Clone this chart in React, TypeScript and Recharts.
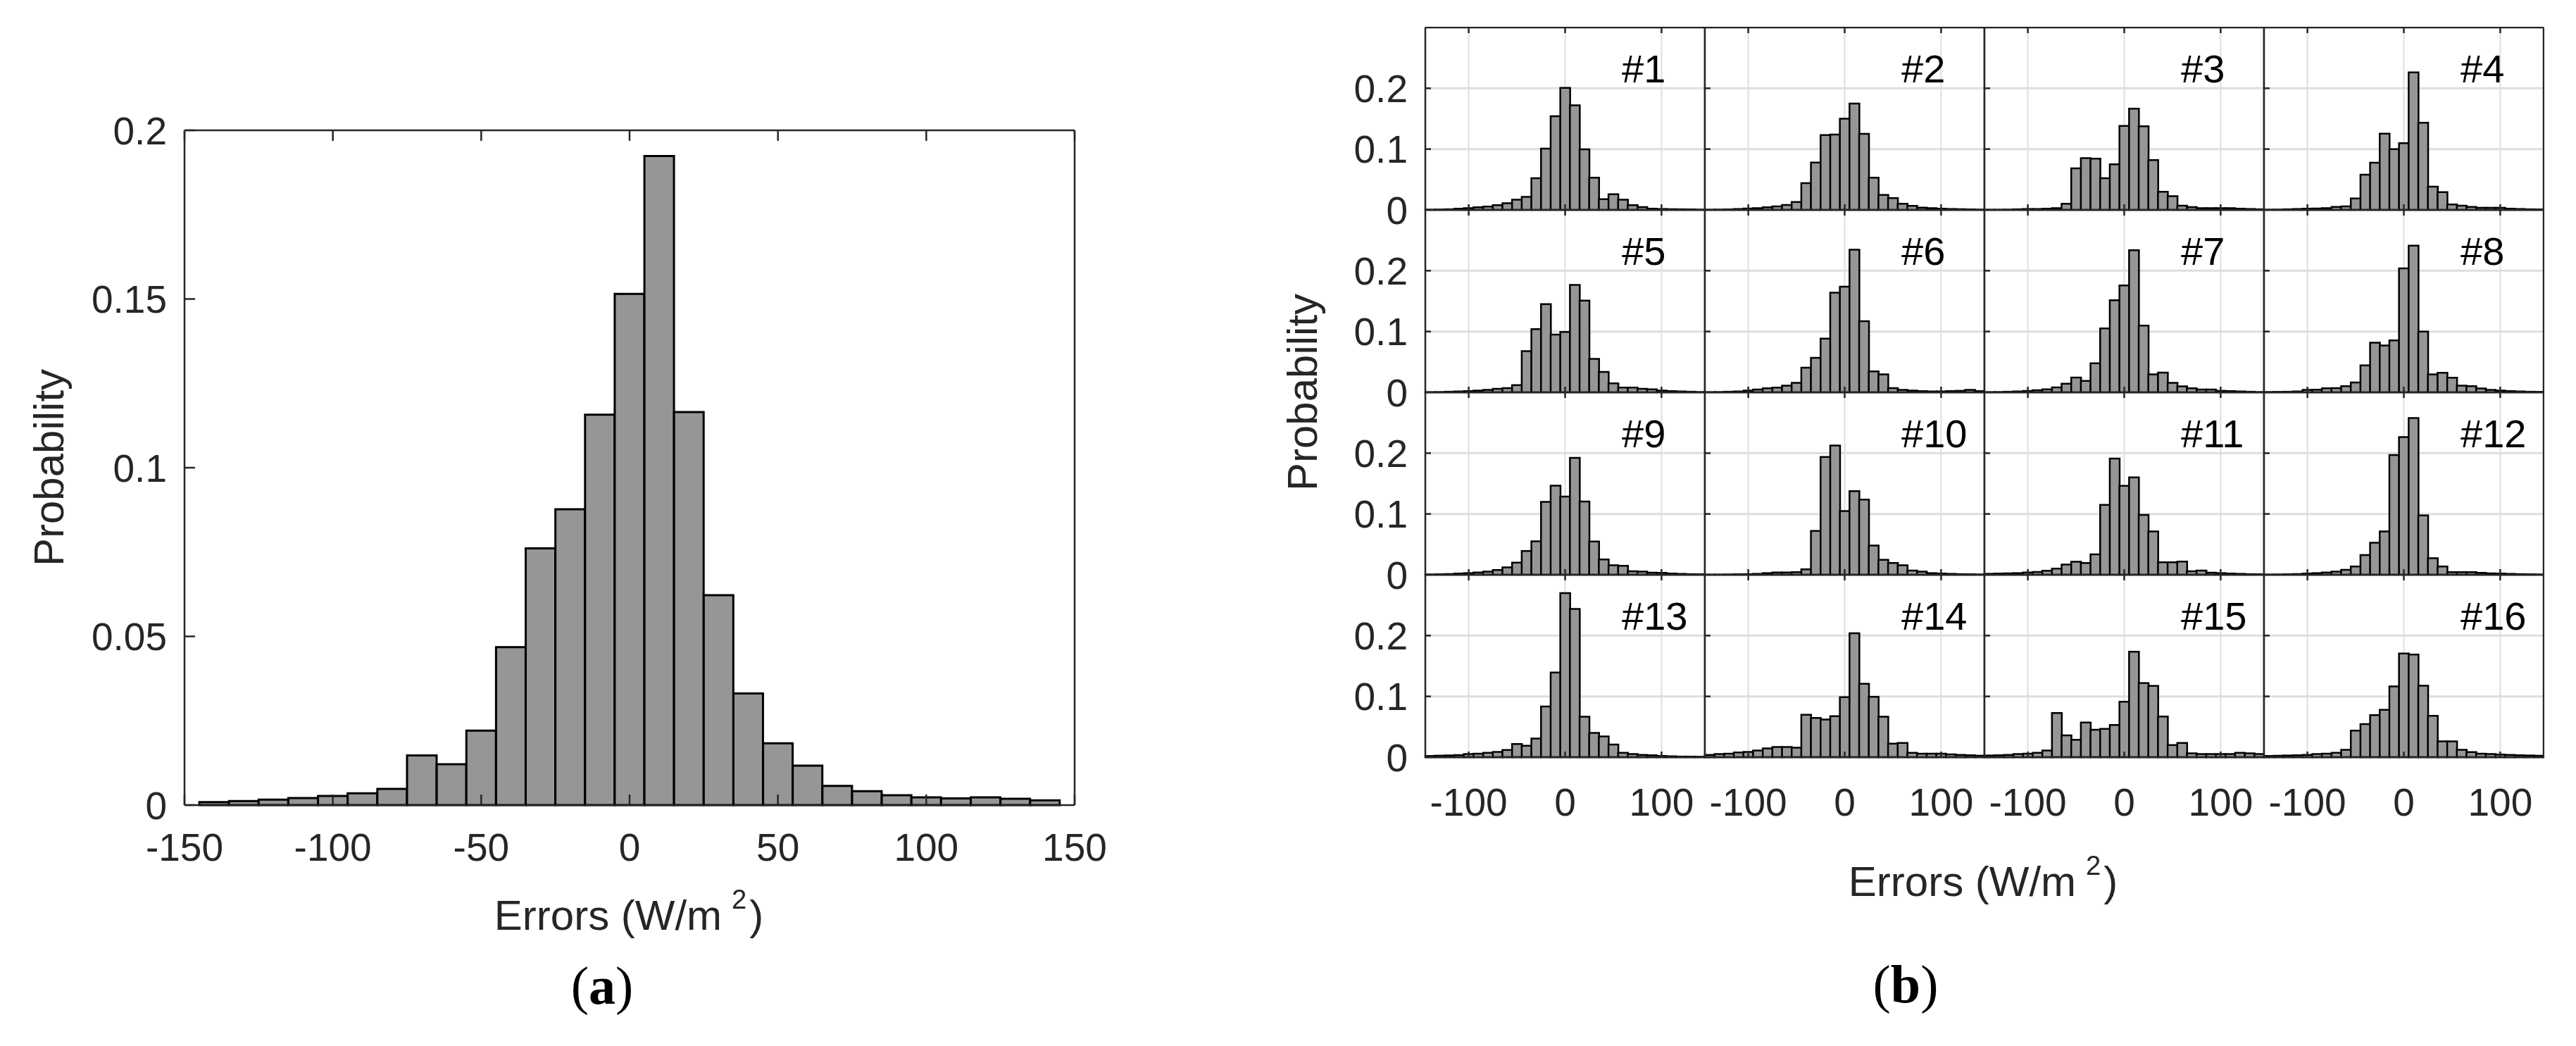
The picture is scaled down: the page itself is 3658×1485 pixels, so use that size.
import React from "react";
import { BarChart, Bar, XAxis, YAxis, CartesianGrid } from "recharts";

// 10 W/m2 bins, centres from -140 to 140
const binCenters = [-140, -130, -120, -110, -100, -90, -80, -70, -60, -50, -40, -30, -20, -10, 0, 10, 20, 30, 40, 50, 60, 70, 80, 90, 100, 110, 120, 130, 140];

// (a) all stations pooled
const allStations = [0.0009, 0.0012, 0.0016, 0.0021, 0.0027, 0.0035, 0.0048, 0.0147, 0.0121, 0.0221, 0.0468, 0.0761, 0.0877, 0.1157, 0.1515, 0.1924, 0.1165, 0.0622, 0.0331, 0.0183, 0.0117, 0.0057, 0.0041, 0.0029, 0.0023, 0.002, 0.0023, 0.0019, 0.0014];

// (b) per station
const station1 = [0.0004, 0.0006, 0.001, 0.002, 0.003, 0.0043, 0.0055, 0.0078, 0.011, 0.0168, 0.0215, 0.052, 0.1008, 0.154, 0.2008, 0.172, 0.0996, 0.053, 0.0176, 0.0258, 0.0168, 0.0078, 0.0047, 0.002, 0.0015, 0.0012, 0.001, 0.0008, 0.0005];
const station2 = [0.0003, 0.0005, 0.0008, 0.0015, 0.0023, 0.003, 0.0043, 0.0059, 0.0082, 0.0129, 0.0441, 0.078, 0.123, 0.124, 0.15, 0.175, 0.125, 0.0531, 0.0246, 0.0195, 0.0102, 0.0066, 0.0039, 0.003, 0.002, 0.0015, 0.0012, 0.0008, 0.0005];
const station3 = [0.0002, 0.0003, 0.0005, 0.001, 0.0015, 0.0015, 0.002, 0.003, 0.0102, 0.0684, 0.0852, 0.0844, 0.052, 0.075, 0.138, 0.1664, 0.1375, 0.082, 0.0297, 0.0227, 0.007, 0.0047, 0.003, 0.003, 0.003, 0.003, 0.002, 0.0015, 0.001];
const station4 = [0.0003, 0.0005, 0.001, 0.0015, 0.002, 0.0023, 0.003, 0.005, 0.0059, 0.0188, 0.0578, 0.0777, 0.1254, 0.1, 0.1098, 0.2262, 0.1434, 0.0383, 0.0293, 0.009, 0.007, 0.005, 0.0035, 0.0035, 0.0035, 0.002, 0.0015, 0.001, 0.0008];
const station5 = [0.0003, 0.0005, 0.001, 0.0015, 0.002, 0.003, 0.004, 0.0059, 0.007, 0.0118, 0.0678, 0.104, 0.145, 0.095, 0.0992, 0.1765, 0.151, 0.0549, 0.0337, 0.0149, 0.0078, 0.0078, 0.0059, 0.005, 0.003, 0.002, 0.0015, 0.001, 0.0005];
const station6 = [0.0003, 0.0005, 0.001, 0.0015, 0.003, 0.0047, 0.0067, 0.0078, 0.011, 0.0157, 0.0404, 0.0569, 0.0882, 0.164, 0.1737, 0.2345, 0.1169, 0.0345, 0.0294, 0.007, 0.004, 0.003, 0.002, 0.0015, 0.0015, 0.002, 0.0025, 0.004, 0.002];
const station7 = [0.0003, 0.0005, 0.001, 0.0015, 0.0023, 0.0035, 0.005, 0.0082, 0.0141, 0.0243, 0.0188, 0.0478, 0.105, 0.1514, 0.1757, 0.2337, 0.1098, 0.0294, 0.0325, 0.0157, 0.0098, 0.0067, 0.0047, 0.0047, 0.0025, 0.002, 0.0015, 0.001, 0.0005];
const station8 = [0.0005, 0.0008, 0.001, 0.0015, 0.004, 0.0043, 0.0067, 0.007, 0.0102, 0.0161, 0.0443, 0.0816, 0.0769, 0.0855, 0.2039, 0.2412, 0.1, 0.0294, 0.0322, 0.0239, 0.011, 0.0102, 0.0063, 0.004, 0.003, 0.002, 0.0015, 0.001, 0.0008];
const station9 = [0.0005, 0.0008, 0.0012, 0.002, 0.0027, 0.0039, 0.0051, 0.0078, 0.0121, 0.0199, 0.039, 0.055, 0.12, 0.1466, 0.1287, 0.1922, 0.1205, 0.0546, 0.0253, 0.0156, 0.0148, 0.0058, 0.0051, 0.0035, 0.0031, 0.002, 0.0015, 0.001, 0.0008];
const station10 = [0.0002, 0.0003, 0.0005, 0.0008, 0.001, 0.0015, 0.0027, 0.0039, 0.0039, 0.0043, 0.009, 0.0721, 0.1938, 0.2125, 0.1049, 0.1376, 0.1236, 0.048, 0.0246, 0.0195, 0.0156, 0.007, 0.0051, 0.0027, 0.002, 0.0015, 0.001, 0.0008, 0.0005];
const station11 = [0.0016, 0.002, 0.0023, 0.0027, 0.0039, 0.0047, 0.0066, 0.0101, 0.0168, 0.0214, 0.0195, 0.0335, 0.115, 0.191, 0.1462, 0.16, 0.0986, 0.0713, 0.0207, 0.0207, 0.0218, 0.0058, 0.007, 0.0035, 0.0027, 0.002, 0.0015, 0.001, 0.0008];
const station12 = [0.0003, 0.0005, 0.0008, 0.0012, 0.002, 0.0027, 0.0039, 0.0051, 0.0082, 0.0136, 0.0324, 0.0526, 0.0713, 0.1969, 0.2265, 0.2577, 0.0975, 0.0273, 0.0136, 0.0043, 0.0043, 0.0043, 0.0031, 0.0023, 0.002, 0.0015, 0.001, 0.0008, 0.0005];
const station13 = [0.002, 0.0025, 0.003, 0.0035, 0.0051, 0.0059, 0.0071, 0.0086, 0.0118, 0.0216, 0.0188, 0.0306, 0.0835, 0.1392, 0.2698, 0.2439, 0.0667, 0.04, 0.0341, 0.0208, 0.0071, 0.0051, 0.0039, 0.0031, 0.002, 0.0015, 0.001, 0.001, 0.0008];
const station14 = [0.0039, 0.0051, 0.0059, 0.0078, 0.0086, 0.011, 0.0145, 0.0169, 0.0169, 0.0157, 0.0698, 0.0647, 0.062, 0.0675, 0.0988, 0.2039, 0.1208, 0.0992, 0.0667, 0.0224, 0.0235, 0.0071, 0.0059, 0.0059, 0.0059, 0.0047, 0.0039, 0.0031, 0.0025];
const station15 = [0.0028, 0.0031, 0.0039, 0.0051, 0.0059, 0.0071, 0.011, 0.0728, 0.0358, 0.0287, 0.0571, 0.0453, 0.0465, 0.0531, 0.0913, 0.1736, 0.122, 0.1173, 0.0669, 0.0201, 0.0236, 0.0063, 0.0051, 0.0051, 0.0051, 0.0051, 0.0071, 0.0063, 0.0051];
const station16 = [0.002, 0.0024, 0.0028, 0.0031, 0.0039, 0.0051, 0.0059, 0.0071, 0.0122, 0.0437, 0.0543, 0.0693, 0.078, 0.1165, 0.1705, 0.1689, 0.1177, 0.0681, 0.026, 0.026, 0.0122, 0.0083, 0.0059, 0.0051, 0.0043, 0.0039, 0.0031, 0.0028, 0.0024];

const stationSeries = [station1, station2, station3, station4, station5, station6, station7, station8, station9, station10, station11, station12, station13, station14, station15, station16];
const stationNames = ["#1", "#2", "#3", "#4", "#5", "#6", "#7", "#8", "#9", "#10", "#11", "#12", "#13", "#14", "#15", "#16"];

const xTicksA = [-150, -100, -50, 0, 50, 100, 150];
const yTicksA = [0, 0.05, 0.1, 0.15, 0.2];
const xTicksB = [-100, 0, 100];
const yTicksB = [0, 0.1, 0.2];

const FONT = '"Liberation Sans", Arial, Helvetica, sans-serif';
const SERIF = '"Liberation Serif", "DejaVu Serif", serif';
const INK = "#262626";
const BAR_FILL = "#969696";
const GRID = "#dedede";

const tickStyle = { fill: INK, fontSize: 55, fontFamily: FONT };
// keeps the tick marks (and grid) but draws no label
const noLabel = () => <g />;

// layout (px)
const A = { left: 262, right: 1526, top: 185, bottom: 1143 };
const B = { left: 2024, top: 39, cellW: 397, cellH: 259 };
const B_YAXIS_W = 110;
const B_XAXIS_H = 100;

const toRows = (vals: number[]) => binCenters.map((x, i) => ({ x, p: vals[i] }));

function OverallHist() {
  const width = 1600;
  const xAxisH = 127;
  const height = A.bottom + xAxisH;
  return (
    <div style={{ position: "absolute", left: 0, top: 0 }}>
      <BarChart
        width={width}
        height={height}
        data={toRows(allStations)}
        margin={{ top: A.top - 1, right: width - A.right - 1, left: 0, bottom: 0 }}
        barCategoryGap={0}
        barGap={0}
      >
        <Bar dataKey="p" fill={BAR_FILL} stroke="#000" strokeWidth={3} isAnimationActive={false} />
        <XAxis dataKey="x" type="number" domain={[-150, 150]} ticks={xTicksA} interval={0}
          height={xAxisH} tickSize={-15} tickMargin={55} tick={tickStyle} stroke={INK} strokeWidth={2.5} />
        <XAxis xAxisId="top" dataKey="x" orientation="top" type="number" domain={[-150, 150]} ticks={xTicksA}
          interval={0} height={1} tickSize={-15} tick={noLabel} stroke={INK} strokeWidth={2.5} />
        <YAxis type="number" domain={[0, 0.2]} ticks={yTicksA} interval={0} width={A.left}
          tickSize={-15} tickMargin={40} tick={tickStyle} stroke={INK} strokeWidth={2.5} />
        <YAxis yAxisId="right" orientation="right" type="number" domain={[0, 0.2]} ticks={yTicksA}
          interval={0} width={1} tickSize={-15} tick={noLabel} stroke={INK} strokeWidth={2.5} />
      </BarChart>
    </div>
  );
}

function StationHist({ values, row, col }: { values: number[]; row: number; col: number }) {
  const showY = col === 0;
  const showX = row === 3;
  const left = B.left + col * B.cellW - B_YAXIS_W;
  const top = B.top + row * B.cellH - 1;
  return (
    <div style={{ position: "absolute", left, top }}>
      <BarChart
        width={B_YAXIS_W + B.cellW + 1}
        height={1 + B.cellH + B_XAXIS_H}
        data={toRows(values)}
        margin={{ top: 0, right: 0, left: 0, bottom: 0 }}
        barCategoryGap={0}
        barGap={0}
      >
        <CartesianGrid horizontal={false} stroke={GRID} strokeWidth={2} />
        <CartesianGrid vertical={false} stroke={GRID} strokeWidth={3} />
        <Bar dataKey="p" fill={BAR_FILL} stroke="#000" strokeWidth={2.5} isAnimationActive={false} />
        <XAxis dataKey="x" type="number" domain={[-145, 145]} ticks={xTicksB} interval={0}
          height={B_XAXIS_H} tickSize={-8} tickMargin={52} tick={showX ? tickStyle : noLabel}
          stroke={INK} strokeWidth={2.5} />
        <XAxis xAxisId="top" dataKey="x" orientation="top" type="number" domain={[-145, 145]} ticks={xTicksB}
          interval={0} height={1} tickSize={-8} tick={noLabel} stroke={INK} strokeWidth={2.5} />
        <YAxis type="number" domain={[0, 0.3]} ticks={yTicksB} interval={0} width={B_YAXIS_W}
          tickSize={-8} tickMargin={33} tick={showY ? tickStyle : noLabel} stroke={INK} strokeWidth={2.5} />
        <YAxis yAxisId="right" orientation="right" type="number" domain={[0, 0.3]} ticks={yTicksB}
          interval={0} width={1} tickSize={-8} tick={noLabel} stroke={INK} strokeWidth={2.5} />
      </BarChart>
    </div>
  );
}

function Labels() {
  const bMidY = B.top + 2 * B.cellH;
  return (
    <svg width={3658} height={1485} style={{ position: "absolute", left: 0, top: 0, pointerEvents: "none" }}>
      <text transform={`translate(90 ${(A.top + A.bottom) / 2}) rotate(-90)`} textAnchor="middle"
        fontFamily={FONT} fontSize={60} fill={INK}>Probability</text>
      <text x={893} y={1320} textAnchor="middle" fontFamily={FONT} fontSize={60} fill={INK}>
        Errors (W/m<tspan dx={14} dy={-30} fontSize={38}>2</tspan><tspan dy={30} dx={4}>)</tspan>
      </text>
      <text x={855} y={1425} textAnchor="middle" fontFamily={SERIF} fontSize={76} fill="#000">
        (<tspan fontWeight="bold">a</tspan>)
      </text>

      <text transform={`translate(1870 ${bMidY}) rotate(-90)`} textAnchor="middle"
        fontFamily={FONT} fontSize={60} fill={INK}>Probability</text>
      <text x={2816} y={1272} textAnchor="middle" fontFamily={FONT} fontSize={60} fill={INK}>
        Errors (W/m<tspan dx={14} dy={-30} fontSize={38}>2</tspan><tspan dy={30} dx={4}>)</tspan>
      </text>
      <text x={2706} y={1423} textAnchor="middle" fontFamily={SERIF} fontSize={76} fill="#000">
        (<tspan fontWeight="bold">b</tspan>)
      </text>

      {stationNames.map((name, i) => (
        <text key={name} x={B.left + (i % 4) * B.cellW + 279} y={B.top + Math.floor(i / 4) * B.cellH + 78}
          fontFamily={FONT} fontSize={56} fill="#000">{name}</text>
      ))}
    </svg>
  );
}

export default function App() {
  return (
    <div style={{ position: "absolute", left: 0, top: 0, width: 3658, height: 1485, background: "#fff" }}>
      <OverallHist />
      {stationSeries.map((vals, i) => (
        <StationHist key={i} values={vals} row={Math.floor(i / 4)} col={i % 4} />
      ))}
      <Labels />
    </div>
  );
}
